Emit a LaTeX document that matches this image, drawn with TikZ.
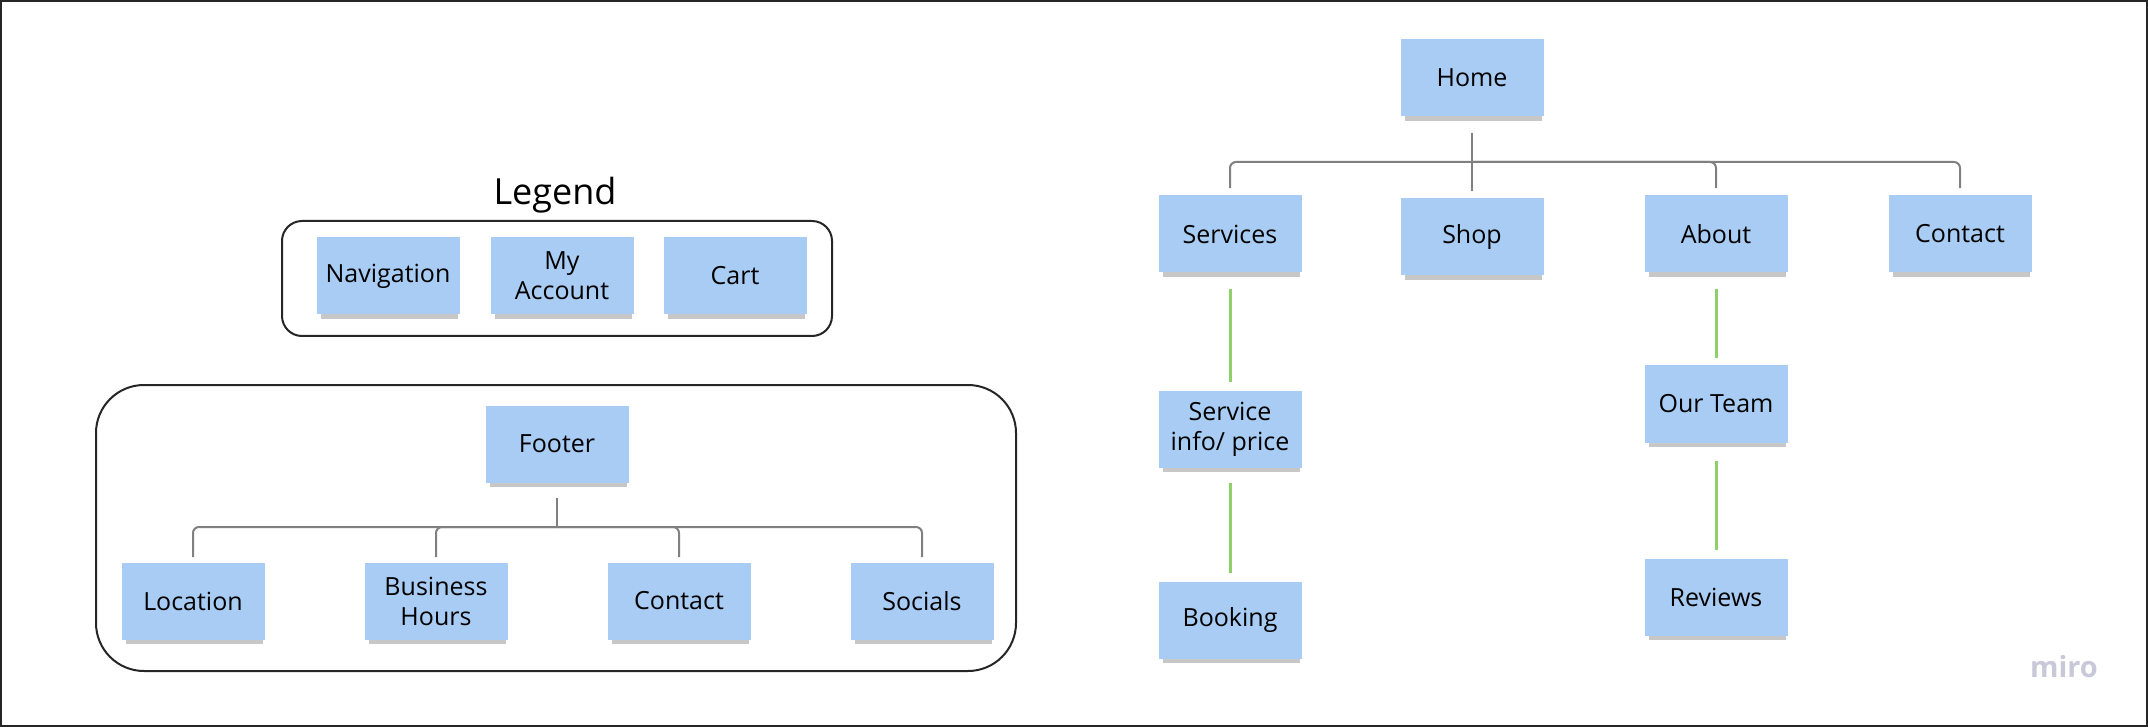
\documentclass[tikz,border=0pt]{standalone}
\usepackage{fontspec}
\setmainfont{Open Sans}
\usepackage{tikz}
\usetikzlibrary{shadows,positioning}

\definecolor{stickyblue}{RGB}{168,204,243}
\definecolor{linkgreen}{RGB}{143,208,106}
\definecolor{treegray}{RGB}{128,128,128}
\definecolor{mirogray}{RGB}{200,200,216}

\tikzset{
  sticky/.style={fill=stickyblue, minimum width=71.5pt, minimum height=38.5pt,
    inner sep=2pt, align=center, font=\fontsize{12.5}{15}\selectfont,
    drop shadow={fill=black, opacity=.22, shadow xshift=.8pt, shadow yshift=-3.2pt, shadow scale=.96}},
  tree/.style={draw=treegray, line width=1pt, rounded corners=3pt},
  link/.style={draw=linkgreen, line width=1.5pt},
  group/.style={draw=black!85, line width=1pt}
}

\begin{document}
\begin{tikzpicture}[x=0.5pt, y=-0.5pt]
        \useasboundingbox (0,0) rectangle (2148,727);
        \draw[black!85, line width=1pt] (1,1) rectangle (2147,726);

        % legend
        \node[font=\fontsize{18}{21}\selectfont] (legend) at (555,195) {Legend};
        \draw[group, rounded corners=10pt] (282,221) rectangle (832,336);
        \node[sticky] (nav) at (388,276) {Navigation};
        \node[sticky] (account) at (562,276) {My\\Account};
        \node[sticky] (cart) at (735,276) {Cart};

        % footer
        \draw[group, rounded corners=24pt] (96,385) rectangle (1016,671);
        \node[sticky] (footer) at (557,444) {Footer};
        \node[sticky] (location) at (193,601) {Location};
        \node[sticky] (hours) at (436,601) {Business\\Hours};
        \node[sticky] (fcontact) at (679,601) {Contact};
        \node[sticky] (socials) at (922,601) {Socials};
        \coordinate (fhub) at (557,527);
        \draw[tree] ([yshift=-7.5pt]footer.south) -- (fhub);
        \foreach \n in {location, hours, fcontact, socials}
            \draw[tree] (fhub) -| ([yshift=2.5pt]\n.north);

        % site map
        \node[sticky] (home) at (1472,78) {Home};
        \node[sticky] (services) at (1230,234) {Services};
        \node[sticky] (shop) at (1472,237) {Shop};
        \node[sticky] (about) at (1716,234) {About};
        \node[sticky] (contact) at (1960,234) {Contact};
        \coordinate (hub) at (1472,162);
        \draw[tree] ([yshift=-8pt]home.south) -- (hub);
        \foreach \n in {services, shop, about, contact}
            \draw[tree] (hub) -| ([yshift=3.5pt]\n.north);

        \node[sticky] (info) at (1230,429) {Service\\info/ price};
        \node[sticky] (booking) at (1230,620) {Booking};
        \node[sticky] (team) at (1716,404) {Our Team};
        \node[sticky] (reviews) at (1716,597) {Reviews};

        \draw[link] ([yshift=-8pt]services.south) -- ([yshift=4pt]info.north);
        \draw[link] ([yshift=-7.5pt]info.south) -- ([yshift=4pt]booking.north);
        \draw[link] ([yshift=-8pt]about.south) -- ([yshift=3.5pt]team.north);
        \draw[link] ([yshift=-9pt]team.south) -- ([yshift=4pt]reviews.north);

        \node[text=mirogray, font=\fontsize{14.5}{17}\selectfont\bfseries] (miro) at (2064,667) {miro};
\end{tikzpicture}
\end{document}
